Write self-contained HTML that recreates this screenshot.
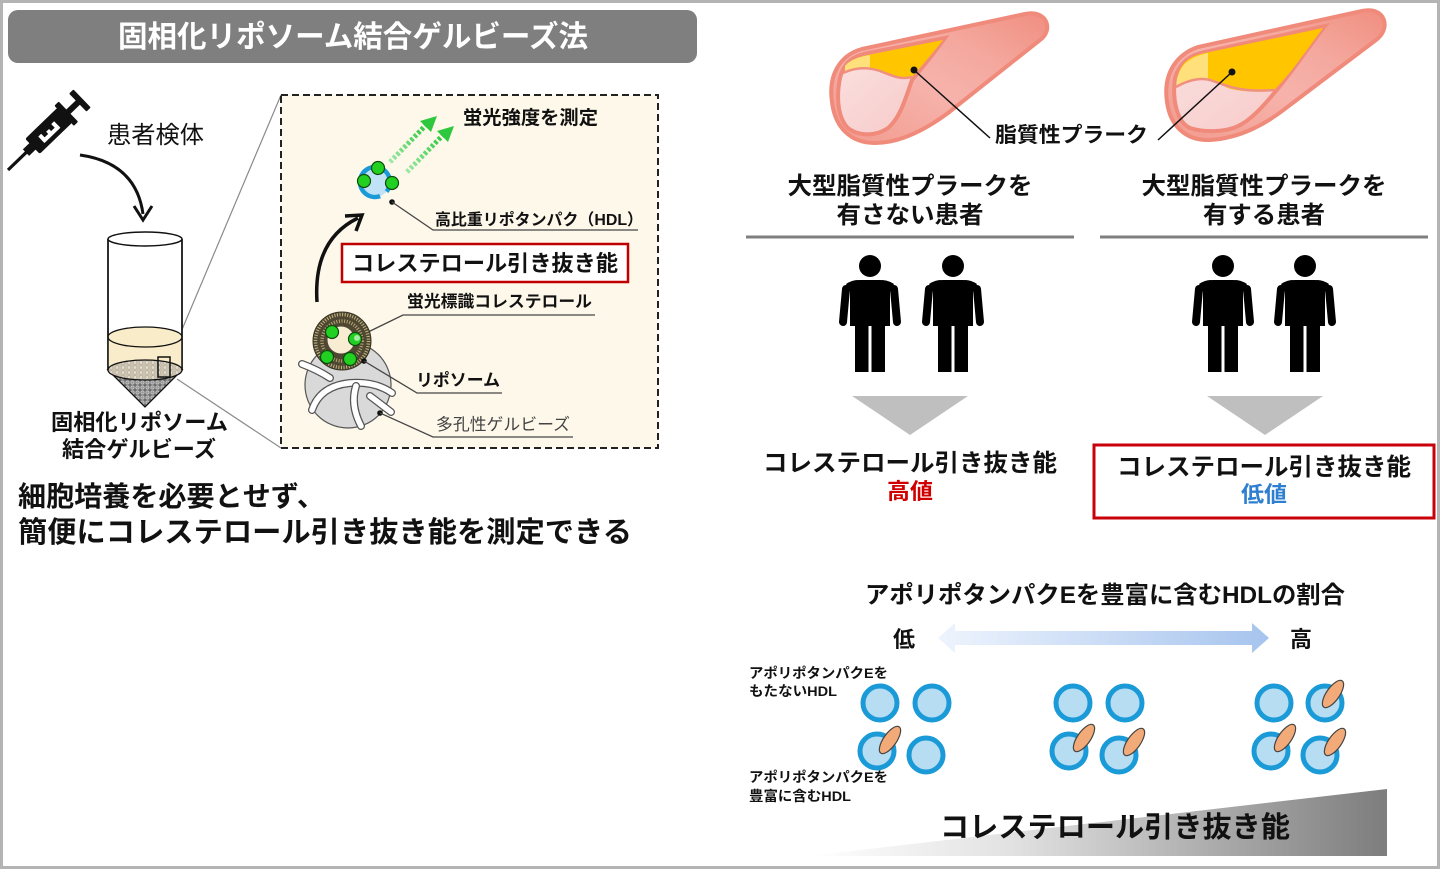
<!DOCTYPE html>
<html><head><meta charset="utf-8">
<style>
html,body{margin:0;padding:0;background:#fff;}
svg{display:block;}
text{font-family:"Liberation Sans","Noto Sans CJK JP",sans-serif;fill:#111;}
.b{font-weight:700;}
</style></head>
<body>
<svg width="1440" height="869" viewBox="0 0 1440 869" xmlns="http://www.w3.org/2000/svg">
<defs>
  <pattern id="cone" width="5" height="5" patternUnits="userSpaceOnUse">
    <rect width="5" height="5" fill="#6e6e6e"/>
    <circle cx="2.5" cy="2.5" r="1.7" fill="#9a9a9a" stroke="#d8d8d8" stroke-width="0.6"/>
  </pattern>
  <pattern id="gel" width="6" height="5" patternUnits="userSpaceOnUse">
    <rect width="6" height="5" fill="#cbc3b0"/>
    <circle cx="3" cy="2.5" r="1.8" fill="#e4ddce" stroke="#a9a090" stroke-width="0.5"/>
  </pattern>
  <linearGradient id="artg" x1="0" y1="1" x2="1" y2="0">
    <stop offset="0" stop-color="#f29a8d"/>
    <stop offset="0.45" stop-color="#f6b3ab"/>
    <stop offset="0.7" stop-color="#f4a79d"/>
    <stop offset="1" stop-color="#f08e80"/>
  </linearGradient>
  <linearGradient id="lum" x1="0" y1="0" x2="1" y2="1">
    <stop offset="0" stop-color="#fbe3e3"/>
    <stop offset="1" stop-color="#f6c6c4"/>
  </linearGradient>
  <linearGradient id="darr" x1="0" y1="0" x2="1" y2="0">
    <stop offset="0" stop-color="#eef4fd"/>
    <stop offset="1" stop-color="#a6c4ee"/>
  </linearGradient>
  <linearGradient id="wedge" x1="0" y1="0" x2="1" y2="0">
    <stop offset="0" stop-color="#ffffff"/>
    <stop offset="0.35" stop-color="#e2e2e2"/>
    <stop offset="1" stop-color="#7d7d7d"/>
  </linearGradient>
  <linearGradient id="garr" x1="0" y1="1" x2="1" y2="0">
    <stop offset="0" stop-color="#9ee8a6"/>
    <stop offset="1" stop-color="#2ec83e"/>
  </linearGradient>
</defs>

<!-- outer border -->
<rect x="1.5" y="1.5" width="1437" height="866" fill="#fff" stroke="#b4b4b4" stroke-width="3"/>

<!-- ===== LEFT PANEL ===== -->
<rect x="8" y="10" width="689" height="53" rx="10" fill="#7f7f7f"/>
<text class="b" x="353" y="47" font-size="30" text-anchor="middle" textLength="470" lengthAdjust="spacingAndGlyphs" style="fill:#fff">固相化リポソーム結合ゲルビーズ法</text>

<!-- syringe -->
<g transform="translate(8,170) rotate(-44)" fill="#111">
  <rect x="0" y="-1.6" width="28" height="3.2"/>
  <rect x="25" y="-4.5" width="11" height="9"/>
  <rect x="34" y="-10.5" width="45" height="21" rx="2"/>
  <rect x="78" y="-14" width="6" height="28" rx="1"/>
  <rect x="83" y="-3" width="16" height="6"/>
  <rect x="97" y="-12.5" width="6" height="25" rx="1"/>
  <g fill="#fff">
    <rect x="45" y="2" width="22" height="4"/>
    <rect x="45" y="-3" width="4" height="8"/>
    <rect x="54" y="-1" width="4" height="6"/>
    <rect x="63" y="-3" width="4" height="8"/>
  </g>
</g>
<text x="107" y="143" font-size="24" textLength="97" lengthAdjust="spacingAndGlyphs">患者検体</text>
<path d="M80,155 Q136,163 143,214" fill="none" stroke="#111" stroke-width="3"/>
<path d="M134,206 L143,220 L152,206" fill="none" stroke="#111" stroke-width="3" stroke-linejoin="miter"/>

<!-- connector lines tube->box -->
<line x1="170" y1="358" x2="281" y2="95" stroke="#8a8a8a" stroke-width="1.2"/>
<line x1="177" y1="379" x2="281" y2="448" stroke="#8a8a8a" stroke-width="1.2"/>

<!-- tube -->
<path d="M108,239 L108,370 L182,370 L182,239" fill="#fff" stroke="#111" stroke-width="1.5"/>
<path d="M108,337 L108,370 L182,370 L182,337 Z" fill="#f9eccb"/>
<ellipse cx="145" cy="337" rx="37" ry="10" fill="#f9edc9" stroke="#111" stroke-width="1.3"/>
<path d="M108,370 L145,407 L182,370 Z" fill="url(#cone)" stroke="#111" stroke-width="1.3"/>
<ellipse cx="145" cy="370" rx="37" ry="10" fill="url(#gel)" stroke="#111" stroke-width="1.3"/>
<line x1="108" y1="239" x2="108" y2="370" stroke="#111" stroke-width="1.5"/>
<line x1="182" y1="239" x2="182" y2="370" stroke="#111" stroke-width="1.5"/>
<ellipse cx="145" cy="239" rx="37" ry="7" fill="#fff" stroke="#111" stroke-width="1.5"/>
<rect x="158" y="357" width="12" height="20" fill="none" stroke="#111" stroke-width="1.5"/>
<text class="b" x="51" y="430" font-size="22" textLength="177" lengthAdjust="spacingAndGlyphs">固相化リポソーム</text>
<text class="b" x="139" y="457" font-size="22" text-anchor="middle" textLength="154" lengthAdjust="spacingAndGlyphs">結合ゲルビーズ</text>

<!-- dashed box -->
<rect x="281" y="95" width="377" height="353" fill="#fdf8ea" stroke="#222" stroke-width="2" stroke-dasharray="7,4"/>

<text class="b" x="463" y="124" font-size="19" textLength="135" lengthAdjust="spacingAndGlyphs">蛍光強度を測定</text>

<!-- green dotted arrows -->
<g stroke="url(#garr)" stroke-width="5" stroke-dasharray="3,2" fill="none">
  <line x1="390" y1="162" x2="426" y2="125"/>
  <line x1="407" y1="172" x2="443" y2="135"/>
</g>
<polygon points="437,116 420,121 431,132" fill="#2ec83e"/>
<polygon points="454,126 437,131 448,142" fill="#2ec83e"/>

<!-- HDL -->
<circle cx="375" cy="182" r="15" fill="#bfe2f6"/>
<path d="M380.1,196.1 A15 15 0 1 1 386.5,191.6" fill="none" stroke="#1b9ad8" stroke-width="4.5"/>
<g fill="#22d022" stroke="#0d4a0d" stroke-width="1.2">
  <circle cx="378" cy="168" r="6.5"/>
  <circle cx="364" cy="181" r="6.5"/>
  <circle cx="392" cy="183" r="6.5"/>
</g>
<circle cx="392" cy="202" r="2.8" fill="#111"/>
<polyline points="392,202 433,230 638,230" fill="none" stroke="#444" stroke-width="1.3"/>
<text class="b" x="435" y="225" font-size="16" textLength="208" lengthAdjust="spacingAndGlyphs">高比重リポタンパク（HDL）</text>

<!-- black curved arrow -->
<path d="M317,302 Q313,240 358,218" fill="none" stroke="#111" stroke-width="3.5"/>
<path d="M345,216 L362,215 L356,231" fill="none" stroke="#111" stroke-width="3.5"/>

<!-- red box -->
<rect x="342" y="244" width="286" height="38" fill="#fff" stroke="#c00000" stroke-width="2.5"/>
<text class="b" x="352" y="271" font-size="22" textLength="266" lengthAdjust="spacingAndGlyphs">コレステロール引き抜き能</text>

<text class="b" x="407" y="307" font-size="16.5" textLength="185" lengthAdjust="spacingAndGlyphs">蛍光標識コレステロール</text>
<polyline points="360,336 403,315 595,315" fill="none" stroke="#444" stroke-width="1.3"/>

<!-- gel bead -->
<circle cx="348" cy="385" r="43" fill="#d9d9d9" stroke="#555" stroke-width="1.2"/>
<g fill="none" stroke-linecap="round">
  <path d="M302,364 Q318,370 330,378" stroke="#555" stroke-width="8"/>
  <path d="M302,364 Q318,370 330,378" stroke="#fff" stroke-width="5.5"/>
  <path d="M312,410 Q320,386 350,383 Q375,381 392,393" stroke="#555" stroke-width="8"/>
  <path d="M312,410 Q320,386 350,383 Q375,381 392,393" stroke="#fff" stroke-width="5.5"/>
  <path d="M356,386 Q350,405 361,426" stroke="#555" stroke-width="8"/>
  <path d="M356,386 Q350,405 361,426" stroke="#fff" stroke-width="5.5"/>
  <path d="M370,396 L391,412" stroke="#555" stroke-width="8"/>
  <path d="M370,396 L391,412" stroke="#fff" stroke-width="5.5"/>
</g>
<!-- liposome -->
<circle cx="342" cy="341" r="29" fill="#4e4732" stroke="#3a3424" stroke-width="1"/>
<circle cx="342" cy="341" r="26.5" fill="none" stroke="#c8b784" stroke-width="3.5" stroke-dasharray="1,1.6"/>
<circle cx="342" cy="341" r="20" fill="none" stroke="#b8a775" stroke-width="3.5" stroke-dasharray="1,1.6"/>
<circle cx="341" cy="340" r="13.5" fill="#f8edd3"/>
<g fill="#22d022" stroke="#0d4a0d" stroke-width="1.2">
  <circle cx="332" cy="332" r="6.5"/>
  <circle cx="355" cy="339" r="6.5"/>
  <circle cx="327" cy="357" r="6.5"/>
  <circle cx="350" cy="359" r="6.5"/>
</g>
<circle cx="357" cy="338" r="3" fill="#fff" opacity="0.6"/>

<circle cx="364" cy="361" r="2.8" fill="#111"/>
<polyline points="364,361 417,393 502,393" fill="none" stroke="#444" stroke-width="1.3"/>
<text class="b" x="416" y="386" font-size="17" textLength="84" lengthAdjust="spacingAndGlyphs">リポソーム</text>

<circle cx="380" cy="413" r="2.8" fill="#111"/>
<polyline points="380,413 433,437 573,437" fill="none" stroke="#444" stroke-width="1.3"/>
<text x="436" y="430" font-size="16.5" textLength="134" lengthAdjust="spacingAndGlyphs" style="fill:#444">多孔性ゲルビーズ</text>

<!-- bottom-left text -->
<text class="b" x="18" y="506" font-size="28" textLength="307" lengthAdjust="spacingAndGlyphs">細胞培養を必要とせず、</text>
<text class="b" x="18" y="542" font-size="29" textLength="614" lengthAdjust="spacingAndGlyphs">簡便にコレステロール引き抜き能を測定できる</text>

<!-- ===== RIGHT PANEL ===== -->
<!-- left artery -->
<path d="M832,102 C828,75 840,55 862,49 L1025,14 C1047,9 1054,30 1040,40 L948,113 C925,130 900,143 875,143 C850,143 835,127 832,102 Z" fill="url(#artg)" stroke="#f08a7b" stroke-width="4"/>
<path d="M840,78 C844,62 853,56 868,53 L945,38 C935,52 922,68 912,80 C905,100 900,118 888,128 C875,137 858,136 848,128 C838,118 836,98 840,78 Z" fill="url(#lum)" stroke="#f08a7b" stroke-width="4"/>
<path d="M845,66 C850,60 858,57 868,55 L943,40 C932,54 920,68 912,77 C900,80 893,76 880,71 C868,67 856,68 845,72 Z" fill="#ffc600"/>
<path d="M845,66 C850,60 858,57 870,55 L870,69 C860,67 852,69 845,72 Z" fill="#ffe07a"/>
<path d="M843,73 C856,67 868,67 880,71 C893,76 900,80 912,77" fill="none" stroke="#f0907f" stroke-width="2.5"/>
<circle cx="914" cy="70" r="3.5" fill="#111"/>
<line x1="914" y1="70" x2="990" y2="138" stroke="#111" stroke-width="1.5"/>

<!-- right artery -->
<path d="M1167,102 C1163,75 1175,55 1198,47 L1362,11 C1385,6 1392,28 1376,40 L1290,105 C1265,125 1240,138 1210,140 C1185,141 1170,125 1167,102 Z" fill="url(#artg)" stroke="#f08a7b" stroke-width="4"/>
<path d="M1175,78 C1180,62 1190,55 1205,52 L1325,26 C1310,45 1290,75 1275,92 C1262,108 1250,120 1240,125 C1228,132 1205,133 1190,128 C1177,122 1172,100 1175,78 Z" fill="url(#lum)" stroke="#f08a7b" stroke-width="4"/>
<path d="M1177,80 C1180,62 1190,56 1205,53 L1323,28 C1308,48 1290,75 1274,90 C1255,92 1240,92 1228,88 C1215,82 1205,78 1195,80 C1188,81 1182,84 1177,86 Z" fill="#ffc600"/>
<path d="M1177,80 C1180,64 1190,57 1208,53 L1208,80 C1198,78 1186,82 1177,86 Z" fill="#ffe07a"/>
<path d="M1176,87 C1185,82 1198,77 1210,80 C1225,85 1240,93 1274,90" fill="none" stroke="#f0907f" stroke-width="2.5"/>
<circle cx="1232" cy="72" r="3.5" fill="#111"/>
<line x1="1232" y1="72" x2="1158" y2="140" stroke="#111" stroke-width="1.5"/>

<text class="b" x="995" y="142" font-size="21" textLength="153" lengthAdjust="spacingAndGlyphs">脂質性プラーク</text>

<text class="b" x="910" y="194" font-size="24" text-anchor="middle" textLength="245" lengthAdjust="spacingAndGlyphs">大型脂質性プラークを</text>
<text class="b" x="910" y="223" font-size="24" text-anchor="middle" textLength="147" lengthAdjust="spacingAndGlyphs">有さない患者</text>
<text class="b" x="1264" y="194" font-size="24" text-anchor="middle" textLength="245" lengthAdjust="spacingAndGlyphs">大型脂質性プラークを</text>
<text class="b" x="1264" y="223" font-size="24" text-anchor="middle" textLength="122" lengthAdjust="spacingAndGlyphs">有する患者</text>
<rect x="746" y="235.5" width="328" height="3" fill="#7f7f7f"/>
<rect x="1100" y="235.5" width="328" height="3" fill="#7f7f7f"/>

<!-- people -->
<g id="p1" fill="#000">
  <circle cx="870" cy="266" r="11"/>
  <path d="M850,290 Q850,280 860,280 H880 Q890,280 890,290 V326 H850 Z"/>
  <line x1="846" y1="289" x2="843" y2="322" stroke="#000" stroke-width="8" stroke-linecap="round"/>
  <line x1="894" y1="289" x2="897" y2="322" stroke="#000" stroke-width="8" stroke-linecap="round"/>
  <path d="M846,284 Q852,280 858,280 L854,300 Z"/>
  <path d="M894,284 Q888,280 882,280 L886,300 Z"/>
  <rect x="855" y="320" width="13.5" height="52"/>
  <rect x="871.5" y="320" width="13.5" height="52"/>
</g>
<use href="#p1" x="83" y="0"/>
<use href="#p1" x="353" y="0"/>
<use href="#p1" x="435" y="0"/>

<!-- triangles -->
<polygon points="852,396 968,396 910,435" fill="#bfbfbf"/>
<polygon points="1207,396 1323,396 1265,435" fill="#bfbfbf"/>

<text class="b" x="910" y="471" font-size="24" text-anchor="middle" textLength="294" lengthAdjust="spacingAndGlyphs">コレステロール引き抜き能</text>
<text class="b" x="910" y="499" font-size="22" text-anchor="middle" textLength="46" lengthAdjust="spacingAndGlyphs" style="fill:#d00000">高値</text>

<rect x="1094" y="445" width="340" height="73" fill="#fff" stroke="#c8000a" stroke-width="3"/>
<text class="b" x="1264" y="475" font-size="24" text-anchor="middle" textLength="294" lengthAdjust="spacingAndGlyphs">コレステロール引き抜き能</text>
<text class="b" x="1264" y="502" font-size="22" text-anchor="middle" textLength="46" lengthAdjust="spacingAndGlyphs" style="fill:#2f7fd0">低値</text>

<!-- bottom right -->
<text class="b" x="865" y="603" font-size="24" textLength="480" lengthAdjust="spacingAndGlyphs">アポリポタンパクEを豊富に含むHDLの割合</text>
<text class="b" x="904" y="647" font-size="22" text-anchor="middle">低</text>
<text class="b" x="1301" y="647" font-size="22" text-anchor="middle">高</text>
<polygon points="938,638 955,623 955,631 1252,631 1252,623 1269,638 1252,653 1252,645 955,645 955,653" fill="url(#darr)"/>

<text class="b" x="749" y="678" font-size="14" textLength="139" lengthAdjust="spacingAndGlyphs">アポリポタンパクEを</text>
<text class="b" x="749" y="696" font-size="14" textLength="88" lengthAdjust="spacingAndGlyphs">もたないHDL</text>
<text class="b" x="749" y="782" font-size="14" textLength="139" lengthAdjust="spacingAndGlyphs">アポリポタンパクEを</text>
<text class="b" x="749" y="801" font-size="14" textLength="102" lengthAdjust="spacingAndGlyphs">豊富に含むHDL</text>

<g fill="#b7ddf3" stroke="#1b9ad8" stroke-width="5">
  <circle cx="880" cy="703" r="17"/>
  <circle cx="932" cy="703" r="17"/>
  <circle cx="877" cy="751" r="17"/>
  <circle cx="926" cy="755" r="17"/>
  <circle cx="1073" cy="703" r="17"/>
  <circle cx="1125" cy="703" r="17"/>
  <circle cx="1069" cy="751" r="17"/>
  <circle cx="1119" cy="755" r="17"/>
  <circle cx="1274" cy="703" r="17"/>
  <circle cx="1325" cy="703" r="17"/>
  <circle cx="1271" cy="751" r="17"/>
  <circle cx="1320" cy="755" r="17"/>
</g>
<g fill="#f2ab78" stroke="#444" stroke-width="1.2">
  <ellipse cx="890" cy="740" rx="16" ry="6.5" transform="rotate(-55 890 740)"/>
  <ellipse cx="1084" cy="738" rx="16" ry="6.5" transform="rotate(-55 1084 738)"/>
  <ellipse cx="1134" cy="742" rx="16" ry="6.5" transform="rotate(-55 1134 742)"/>
  <ellipse cx="1333" cy="694" rx="16" ry="6.5" transform="rotate(-55 1333 694)"/>
  <ellipse cx="1285" cy="738" rx="16" ry="6.5" transform="rotate(-55 1285 738)"/>
  <ellipse cx="1335" cy="742" rx="16" ry="6.5" transform="rotate(-55 1335 742)"/>
</g>

<polygon points="808,856 1387,789 1387,856" fill="url(#wedge)"/>
<text class="b" x="940" y="837" font-size="29" textLength="350" lengthAdjust="spacingAndGlyphs">コレステロール引き抜き能</text>
</svg>
</body></html>
